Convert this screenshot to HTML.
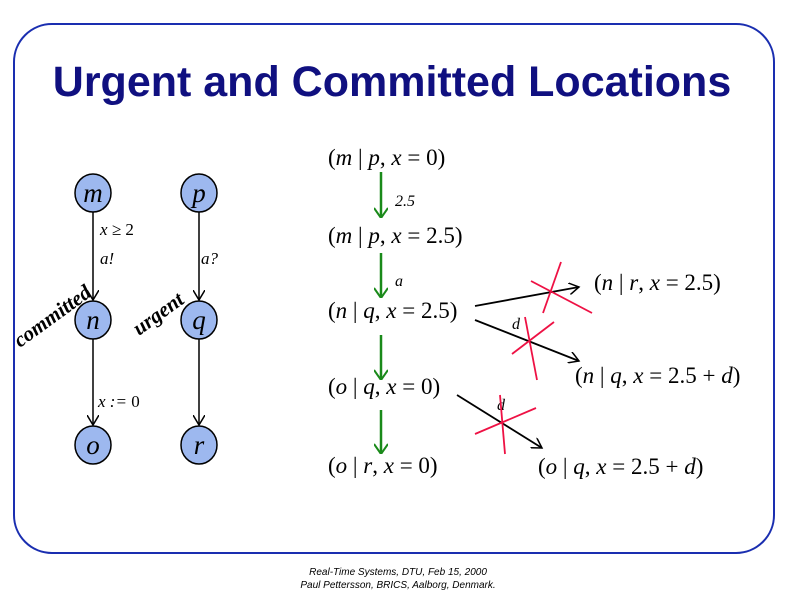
<!DOCTYPE html><html><head><style>body{margin:0;background:#fff}svg{display:block}</style></head><body>
<svg width="800" height="600" xmlns="http://www.w3.org/2000/svg" font-family="Liberation Serif, serif">
<defs><marker id="ah" markerWidth="12" markerHeight="12" refX="10" refY="6" orient="auto" markerUnits="userSpaceOnUse"><path d="M0,0 L10,6 L0,12" fill="none" stroke="#000" stroke-width="1.5"/></marker>
<marker id="gh" markerWidth="14" markerHeight="12" refX="7" refY="12" orient="0" markerUnits="userSpaceOnUse"><path d="M0,2 L7,12 L14,2" fill="none" stroke="#1a8a1a" stroke-width="2"/></marker></defs>
<rect x="14" y="24" width="760" height="529" rx="38" fill="#fff" stroke="#1a2eb0" stroke-width="2"/>
<text x="392" y="96" text-anchor="middle" font-family="Liberation Sans, sans-serif" font-weight="bold" font-size="43" fill="#101080">Urgent and Committed Locations</text>
<g stroke="#000" stroke-width="1.5">
<line x1="93" y1="212" x2="93" y2="300" marker-end="url(#ah)"/><line x1="93" y1="339" x2="93" y2="425" marker-end="url(#ah)"/>
<line x1="199" y1="212" x2="199" y2="300" marker-end="url(#ah)"/><line x1="199" y1="339" x2="199" y2="425" marker-end="url(#ah)"/>
</g>
<g fill="#9db8ef" stroke="#000" stroke-width="1.5">
<ellipse cx="93" cy="193" rx="18" ry="19"/><ellipse cx="199" cy="193" rx="18" ry="19"/>
<ellipse cx="93" cy="320" rx="18" ry="19"/><ellipse cx="199" cy="320" rx="18" ry="19"/>
<ellipse cx="93" cy="445" rx="18" ry="19"/><ellipse cx="199" cy="445" rx="18" ry="19"/>
</g>
<g font-style="italic" font-size="27" text-anchor="middle">
<text x="93" y="202">m</text><text x="199" y="202">p</text><text x="93" y="329">n</text><text x="199" y="329">q</text><text x="93" y="454">o</text><text x="199" y="454">r</text>
</g>
<g font-size="17" font-style="italic">
<text x="100" y="235">x ≥ <tspan font-style="normal">2</tspan></text><text x="100" y="264">a!</text>
<text x="201" y="264">a?</text><text x="98" y="407">x := <tspan font-style="normal">0</tspan></text>
</g>
<text transform="translate(20,348) rotate(-36)" font-size="21" font-style="italic" font-weight="bold">committed</text>
<text transform="translate(139,336) rotate(-36)" font-size="21" font-style="italic" font-weight="bold">urgent</text>
<g font-size="23">
<text x="328" y="165">(<tspan font-style="italic">m</tspan> | <tspan font-style="italic">p</tspan>, <tspan font-style="italic">x</tspan> = 0)</text>
<text x="328" y="243">(<tspan font-style="italic">m</tspan> | <tspan font-style="italic">p</tspan>, <tspan font-style="italic">x</tspan> = 2.5)</text>
<text x="328" y="318">(<tspan font-style="italic">n</tspan> | <tspan font-style="italic">q</tspan>, <tspan font-style="italic">x</tspan> = 2.5)</text>
<text x="328" y="394">(<tspan font-style="italic">o</tspan> | <tspan font-style="italic">q</tspan>, <tspan font-style="italic">x</tspan> = 0)</text>
<text x="328" y="473">(<tspan font-style="italic">o</tspan> | <tspan font-style="italic">r</tspan>, <tspan font-style="italic">x</tspan> = 0)</text>
<text x="594" y="290">(<tspan font-style="italic">n</tspan> | <tspan font-style="italic">r</tspan>, <tspan font-style="italic">x</tspan> = 2.5)</text>
<text x="575" y="383">(<tspan font-style="italic">n</tspan> | <tspan font-style="italic">q</tspan>, <tspan font-style="italic">x</tspan> = 2.5 + <tspan font-style="italic">d</tspan>)</text>
<text x="538" y="474">(<tspan font-style="italic">o</tspan> | <tspan font-style="italic">q</tspan>, <tspan font-style="italic">x</tspan> = 2.5 + <tspan font-style="italic">d</tspan>)</text>
</g>
<g stroke="#1a8a1a" stroke-width="2.5">
<line x1="381" y1="172" x2="381" y2="218" marker-end="url(#gh)"/>
<line x1="381" y1="253" x2="381" y2="298" marker-end="url(#gh)"/>
<line x1="381" y1="335" x2="381" y2="380" marker-end="url(#gh)"/>
<line x1="381" y1="410" x2="381" y2="454" marker-end="url(#gh)"/>
</g>
<g font-size="16" font-style="italic"><text x="395" y="206">2.5</text><text x="395" y="286">a</text><text x="512" y="329">d</text><text x="497" y="410">d</text></g>
<g stroke="#000" stroke-width="1.8">
<line x1="475" y1="306" x2="579" y2="287" marker-end="url(#ah)"/>
<line x1="475" y1="320" x2="579" y2="361" marker-end="url(#ah)"/>
<line x1="457" y1="395" x2="542" y2="448" marker-end="url(#ah)"/>
</g>
<g stroke="#ee1144" stroke-width="1.8">
<line x1="561" y1="262" x2="543" y2="313"/><line x1="531" y1="281" x2="592" y2="313"/>
<line x1="525" y1="317" x2="537" y2="380"/><line x1="554" y1="322" x2="512" y2="354"/>
<line x1="500" y1="395" x2="505" y2="454"/><line x1="536" y1="408" x2="475" y2="434"/>
</g>
<g font-family="Liberation Sans, sans-serif" font-style="italic" font-size="10" text-anchor="middle">
<text x="398" y="575">Real-Time Systems, DTU, Feb 15, 2000</text>
<text x="398" y="588">Paul Pettersson, BRICS, Aalborg, Denmark.</text></g>
</svg></body></html>
